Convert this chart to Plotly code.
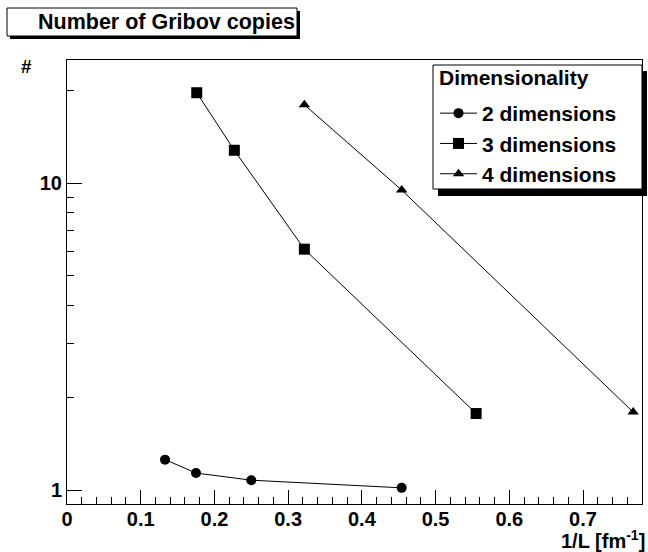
import plotly.graph_objects as go

# ---- data ----
x_2d = [0.133, 0.175, 0.250, 0.454]
y_2d = [1.26, 1.14, 1.08, 1.02]
x_3d = [0.176, 0.227, 0.322, 0.555]
y_3d = [19.7, 12.8, 6.1, 1.78]
x_4d = [0.322, 0.454, 0.768]
y_4d = [18.0, 9.5, 1.80]
series_names = ["2 dimensions", "3 dimensions", "4 dimensions"]
x_tickvals = [0, 0.1, 0.2, 0.3, 0.4, 0.5, 0.6, 0.7]
x_ticktext = ["0", "0.1", "0.2", "0.3", "0.4", "0.5", "0.6", "0.7"]
y_tickvals = [1, 10]
y_ticktext = ["1", "10"]
y_minorvals = [2, 3, 4, 5, 6, 7, 8, 9, 20]

W, H = 648, 552
L, R, T, B = 67, 6, 60, 48
PW, PH = W - L - R, H - T - B
FONT = "Liberation Sans"


def px(x):
    return (x - L) / PW


def py(y):
    return (H - B - y) / PH


fig = go.Figure()
symbols = ["circle", "square", "triangle-up"]
sizes = [10, 11, 10]
for xs, ys, name, sym, sz in zip([x_2d, x_3d, x_4d], [y_2d, y_3d, y_4d],
                                 series_names, symbols, sizes):
    fig.add_trace(go.Scatter(
        x=xs, y=ys, name=name, mode="lines+markers",
        line=dict(color="black", width=1),
        marker=dict(symbol=sym, size=sz, color="black"),
    ))

shapes = []
# title box shadow + box
shapes.append(dict(type="rect", xref="paper", yref="paper",
                   x0=px(10), x1=px(300), y0=py(11), y1=py(39),
                   fillcolor="black", line=dict(width=0), layer="above"))
shapes.append(dict(type="rect", xref="paper", yref="paper",
                   x0=px(7), x1=px(297), y0=py(8), y1=py(36),
                   fillcolor="white", line=dict(color="black", width=1), layer="above"))
# legend box shadow + box
shapes.append(dict(type="rect", xref="paper", yref="paper",
                   x0=px(438), x1=px(647), y0=py(71), y1=py(196),
                   fillcolor="black", line=dict(width=0), layer="above"))
shapes.append(dict(type="rect", xref="paper", yref="paper",
                   x0=px(433), x1=px(642), y0=py(65), y1=py(189),
                   fillcolor="white", line=dict(color="black", width=1), layer="above"))

annotations = [
    dict(text="Number of Gribov copies", xref="paper", yref="paper",
         x=px(36), y=py(22), xanchor="left", yanchor="middle", showarrow=False,
         font=dict(family=FONT, size=21.5, color="black", weight="bold")),
    dict(text="#", xref="paper", yref="paper",
         x=px(26), y=py(67), xanchor="center", yanchor="middle", showarrow=False,
         font=dict(family=FONT, size=19, color="black", weight="bold")),
    dict(text="1/L [fm<sup>-1</sup>]", xref="paper", yref="paper",
         x=px(646), y=py(539), xanchor="right", yanchor="middle", showarrow=False,
         borderpad=0,
         font=dict(family=FONT, size=20, color="black", weight="bold")),
    dict(text="Dimensionality", xref="paper", yref="paper",
         x=px(437), y=py(77), xanchor="left", yanchor="middle", showarrow=False,
         font=dict(family=FONT, size=21, color="black", weight="bold")),
]

fig.update_layout(
    width=W, height=H,
    margin=dict(l=L, r=R, t=T, b=B, pad=0),
    paper_bgcolor="white", plot_bgcolor="white",
    showlegend=True,
    legend=dict(
        x=px(435), y=py(93), xanchor="left", yanchor="top",
        bgcolor="rgba(0,0,0,0)", borderwidth=0,
        font=dict(family=FONT, size=21, color="black", weight="bold"),
        itemwidth=37, tracegroupgap=0,
    ),
    shapes=shapes,
    annotations=annotations,
    xaxis=dict(
        range=[0, 0.78], showgrid=False, zeroline=False,
        showline=True, linecolor="black", linewidth=1, mirror=True,
        ticks="inside", ticklen=14, tickwidth=1, tickcolor="black",
        tickmode="array", tickvals=x_tickvals, ticktext=x_ticktext,
        ticklabelstandoff=-3,
        tickfont=dict(family=FONT, size=20, color="black", weight="bold"),
        minor=dict(ticks="inside", ticklen=7, tickwidth=1, tickcolor="black",
                   dtick=0.02, tick0=0, showgrid=False),
    ),
    yaxis=dict(
        type="log", range=[-0.044, 1.401], showgrid=False, zeroline=False,
        showline=True, linecolor="black", linewidth=1, mirror=True,
        ticks="inside", ticklen=15, tickwidth=1, tickcolor="black",
        tickmode="array", tickvals=y_tickvals, ticktext=y_ticktext,
        tickfont=dict(family=FONT, size=20, color="black", weight="bold"),
        minor=dict(ticks="inside", ticklen=7, tickwidth=1, tickcolor="black",
                   tickmode="array", tickvals=y_minorvals, showgrid=False),
    ),
)

fig.write_html("out.html",
               config={"displayModeBar": False},
               post_script="document.body.style.margin='0px';"
                           "document.body.style.overflow='hidden';")
